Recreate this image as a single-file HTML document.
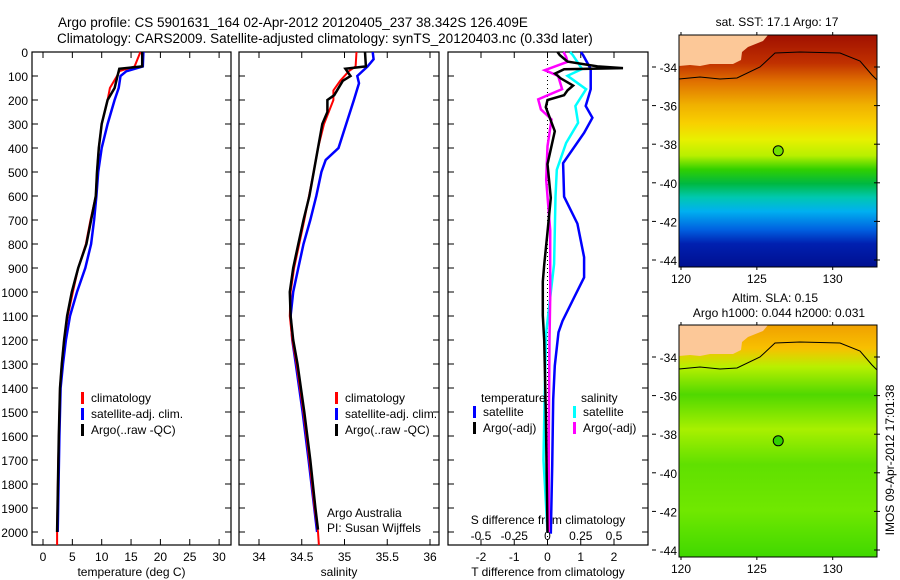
<!DOCTYPE html>
<html><head><meta charset="utf-8">
<style>
body{margin:0;background:#fff;}
svg{display:block;font-family:"Liberation Sans",sans-serif;}
text{font-size:12px;fill:#000;}
</style></head>
<body>
<svg id="c" width="900" height="580" viewBox="0 0 900 580" xmlns="http://www.w3.org/2000/svg">
<text x="58" y="27" style="font-size:13.5px">Argo profile: CS 5901631_164 02-Apr-2012 20120405_237 38.342S 126.409E</text>
<text x="57" y="43" style="font-size:13.5px">Climatology: CARS2009. Satellite-adjusted climatology: synTS_20120403.nc (0.33d later)</text>
<g id="p1"></g>
<g id="p2"></g>
<g id="p3"></g>
<g id="m1"></g>
<g id="m2"></g>
<text x="777" y="26" text-anchor="middle">sat. SST: 17.1 Argo: 17</text>
<text x="775" y="302" text-anchor="middle">Altim. SLA: 0.15</text>
<text x="779" y="317" text-anchor="middle">Argo h1000: 0.044 h2000: 0.031</text>
<text transform="translate(894,460) rotate(-90)" text-anchor="middle">IMOS 09-Apr-2012 17:01:38</text>
</svg>
<script>
// ---- data ----
const depthTicks=[0,100,200,300,400,500,600,700,800,900,1000,1100,1200,1300,1400,1500,1600,1700,1800,1900,2000];
const tempTicks=[0,5,10,15,20,25,30];
const salTicks=[34,34.5,35,35.5,36];
const salTickLabels=["34","34.5","35","35.5","36"];
const tdiffTicks=[-2,-1,0,1,2];
const sdiffTicks=[-0.5,-0.25,0,0.25,0.5];
const sdiffLabels=["-0.5","-0.25","0","0.25","0.5"];

const tClimDepth=[0,60,80,100,150,200,300,400,500,600,700,800,900,1000,1100,1200,1300,1400,1500,1700,2000,2054];
const tClim=[16.6,15.6,13,12.6,11.4,11,10,9.5,9.2,9,8.1,7.3,6.0,5.1,4.2,3.6,3.2,2.9,2.8,2.6,2.4,2.4];
const tSatDepth=[0,60,80,100,150,200,300,400,500,600,700,800,900,1000,1100,1200,1300,1400,1600,2000];
const tSat=[17.1,17.0,14.2,13.2,12.9,12.2,11,10,9.4,9.1,8.7,8.2,7.2,5.8,4.6,3.9,3.4,3.0,2.8,2.5];
const tArgoDepth=[0,60,70,100,150,200,300,400,500,600,700,800,900,1000,1100,1200,1300,1400,1600,2000];
const tArgo=[16.9,16.9,13,12.7,12.2,11,10,9.5,9.2,9,8.2,7.4,6.0,4.9,4.1,3.6,3.2,2.9,2.7,2.4];

const sClimDepth=[0,60,80,120,160,200,300,400,500,700,900,1000,1100,1200,1300,1400,1500,1700,1900,2000,2054];
const sClim=[35.14,35.13,35.05,34.95,34.87,34.87,34.76,34.69,34.64,34.53,34.41,34.37,34.36,34.39,34.44,34.48,34.52,34.59,34.65,34.69,34.7];
const sSatDepth=[0,30,60,100,130,200,300,400,450,500,600,700,800,900,1000,1100,1200,1300,1400,1500,1700,2000];
const sSat=[35.33,35.34,35.27,35.15,35.17,35.11,35.02,34.93,34.78,34.73,34.67,34.6,34.52,34.46,34.40,34.37,34.39,34.43,34.47,34.51,34.58,34.68];
const sArgoDepth=[0,60,70,100,120,180,200,250,300,400,500,600,700,800,900,1000,1100,1200,1300,1400,1500,1700,1900,1990];
const sArgo=[35.24,35.25,35.01,35.07,34.98,34.88,34.8,34.8,34.74,34.69,34.64,34.59,34.52,34.46,34.40,34.36,34.37,34.40,34.45,34.49,34.53,34.6,34.66,34.69];

const dTSatDepth=[0,13,71,155,225,274,337,463,603,715,855,939,1023,1121,1168,1307,1447,1727,2007];
const dTSat=[1.0,1.07,1.3,1.3,1.15,1.35,1.1,0.47,0.5,0.9,1.1,1.1,0.8,0.45,0.33,0.22,0.17,0.14,0.1];
const dTArgoDepth=[0,13,40,60,67,72,90,110,140,160,180,200,230,330,467,608,750,887,957,1097,1200,1500,2000];
const dTArgo=[0.3,0.37,0.6,1.5,2.27,0.5,0.23,0.4,0.77,0.6,0.5,0.0,-0.05,0.22,0.0,0.1,0.0,-0.1,-0.14,-0.14,-0.1,-0.05,0.0];
const dSSatDepth=[0,13,71,99,155,225,295,379,491,603,883,1121,1168,1400,1700,1900,2000];
const dSSat=[0.17,0.19,0.26,0.15,0.29,0.21,0.23,0.14,0.07,0.06,0.05,0.0,-0.01,-0.02,-0.03,-0.01,0.0];
const dSArgoDepth=[0,20,41,76,99,155,197,239,281,393,533,743,1023,1200,1600,2000];
const dSArgo=[0.12,0.14,0.15,-0.02,0.08,0.11,-0.07,-0.05,0.03,0.0,-0.01,0.02,0.02,0.015,0.01,0.01];

const latTicks=[-34,-36,-38,-40,-42,-44];
const lonTicks=[120,125,130];
const argoLon=126.409, argoLat=-38.342;

// ---- helpers ----
const NS="http://www.w3.org/2000/svg";
function mk(parent,tag,attrs,txt){const e=document.createElementNS(NS,tag);for(const k in attrs)e.setAttribute(k,attrs[k]);if(txt!==undefined)e.textContent=txt;parent.appendChild(e);return e;}
const TOP=52,BOT=545;
const yD=d=>TOP+d*0.24;

function panel(g,x0,x1,xs,ticks,labels,xlabel,withDepthLabels){
  const fr=mk(g,'rect',{x:x0,y:TOP,width:x1-x0,height:BOT-TOP,fill:'none',stroke:'#000','stroke-width':1.2});
  
  
  depthTicks.forEach(d=>{
    mk(g,'line',{x1:x0,x2:x0+6,y1:yD(d),y2:yD(d),stroke:'#000'});
    mk(g,'line',{x1:x1-6,x2:x1,y1:yD(d),y2:yD(d),stroke:'#000'});
    if(withDepthLabels){const t=mk(g,'text',{x:x0-4,y:yD(d)+5,'text-anchor':'end'},String(d));
      
      }
  });
  ticks.forEach((v,i)=>{
    const x=xs(v);
    mk(g,'line',{x1:x,x2:x,y1:TOP,y2:TOP+6,stroke:'#000'});
    mk(g,'line',{x1:x,x2:x,y1:BOT-6,y2:BOT,stroke:'#000'});
    if(labels){const t=mk(g,'text',{x:x,y:BOT+16,'text-anchor':'middle'},labels[i]);
      
      }
  });
  if(xlabel){const t=mk(g,'text',{x:(x0+x1)/2,y:576,'text-anchor':'middle'},xlabel);
    
    }
}
function series(g,depths,vals,xs,color,name,w){
  const pts=depths.map((d,i)=>xs(vals[i]).toFixed(1)+','+yD(d).toFixed(1)).join(' ');
  const p=mk(g,'polyline',{points:pts,fill:'none',stroke:color,'stroke-width':w||2.5,'stroke-linejoin':'miter'});
  
  
}
function legend(g,x,y,items){
  items.forEach((it,i)=>{
    mk(g,'rect',{x:x,y:y+i*16-10,width:3,height:12,fill:it[1]});
    const t=mk(g,'text',{x:x+10,y:y+i*16},it[0]);
    
    
  });
}

// panel 1
const p1=document.getElementById('p1');
const xT=v=>43+v*5.87;
panel(p1,32,231,xT,tempTicks,tempTicks.map(String),'temperature (deg C)',true);
series(p1,tSatDepth,tSat,xT,'#0000ff','temp-satellite-line');
series(p1,tClimDepth,tClim,xT,'#ff0000','temp-climatology-line',2);
series(p1,tArgoDepth,tArgo,xT,'#000','temp-argo-line');
legend(p1,81,402,[['climatology','#f00'],['satellite-adj. clim.','#00f'],['Argo(..raw -QC)','#000']]);

// panel 2
const p2=document.getElementById('p2');
const xS=v=>259+(v-34)*85.5;
panel(p2,239,439,xS,salTicks,salTickLabels,'salinity',false);
series(p2,sSatDepth,sSat,xS,'#0000ff','sal-satellite-line');
series(p2,sClimDepth,sClim,xS,'#ff0000','sal-climatology-line',2);
series(p2,sArgoDepth,sArgo,xS,'#000','sal-argo-line');
legend(p2,335,402,[['climatology','#f00'],['satellite-adj. clim.','#00f'],['Argo(..raw -QC)','#000']]);
mk(p2,'text',{x:327,y:517},'Argo Australia');
mk(p2,'text',{x:327,y:532},'PI: Susan Wijffels');

// panel 3
const p3=document.getElementById('p3');
const xDT=v=>547.5+v*33.25;
const xDS=v=>547.5+v*133;
panel(p3,448,648,xDT,tdiffTicks,tdiffTicks.map(String),'T difference from climatology',false);
mk(p3,'line',{x1:547.5,x2:547.5,y1:TOP,y2:BOT,stroke:'#000','stroke-dasharray':'1,3'});
sdiffTicks.forEach((v,i)=>{const t=mk(p3,'text',{x:xDS(v),y:540,'text-anchor':'middle'},sdiffLabels[i]);
  
  });
mk(p3,'text',{x:548,y:524,'text-anchor':'middle'},'S difference from climatology');
series(p3,dTSatDepth,dTSat,xDT,'#0000ff','tdiff-satellite-line');
series(p3,dSSatDepth,dSSat,xDS,'#00ffff','sdiff-satellite-line');
series(p3,dSArgoDepth,dSArgo,xDS,'#ff00ff','sdiff-argo-line');
series(p3,dTArgoDepth,dTArgo,xDT,'#000','tdiff-argo-line');
mk(p3,'text',{x:481,y:402},'temperature');
legend(p3,473,416,[['satellite','#00f'],['Argo(-adj)','#000']]);
mk(p3,'text',{x:581,y:402},'salinity');
legend(p3,573,416,[['satellite','#0ff'],['Argo(-adj)','#f0f']]);

// maps
function map(g,top,stops){
  const L=679,R=877,B=top+232;
  const lx=v=>681+(v-120)*15.17;
  const ly=v=>top+32+(-34-v)*19.3;
  const id='grad'+top;
  const defs=mk(g,'defs',{});
  const lg=mk(defs,'linearGradient',{id:id,x1:0,y1:0,x2:0,y2:1});
  stops.forEach(s=>mk(lg,'stop',{offset:s[0],'stop-color':s[1]}));
  const r=mk(g,'rect',{x:L,y:top,width:R-L,height:B-top,fill:'url(#'+id+')'});
  
  
  return {L,R,B,lx,ly};
}
function decorate(g,top,o,fillMarker){
  const {L,R,B,lx,ly}=o;
  const land=mk(g,'polygon',{points:`${L},${top} 768,${top} 763,${top+6} 748,${top+12} 742,${top+17} 741,${top+25} 733,${top+29} 710,${top+29} 700,${top+31} 690,${top+30} ${L},${top+31}`,fill:'#fcc898'});
  
  
  mk(g,'polyline',{points:`${L},${top+44} 700,${top+42} 720,${top+44} 737,${top+43} 760,${top+32} 775,${top+18} 800,${top+17} 840,${top+18} 860,${top+26} 872,${top+40} ${R},${top+45}`,fill:'none',stroke:'#000','stroke-width':1});
  mk(g,'rect',{x:L,y:top,width:R-L,height:B-top,fill:'none',stroke:'#000','stroke-width':1});
  latTicks.forEach(v=>{const y=ly(v);
    mk(g,'line',{x1:652,x2:656,y1:y,y2:y,stroke:'#000'});
    mk(g,'line',{x1:R-3,x2:R+3,y1:y,y2:y,stroke:'#000'});
    const t=mk(g,'text',{x:L-2,y:y+5,'text-anchor':'end'},String(v));
    
    });
  lonTicks.forEach(v=>{const x=lx(v);
    mk(g,'line',{x1:x,x2:x,y1:top-3,y2:top,stroke:'#000'});
    mk(g,'line',{x1:x,x2:x,y1:B,y2:B+3,stroke:'#000'});
    const t=mk(g,'text',{x:x,y:B+16,'text-anchor':'middle'},String(v));
    
    });
  const c=mk(g,'circle',{cx:lx(argoLon),cy:ly(argoLat),r:5,fill:fillMarker,stroke:'#000','stroke-width':1});
  
  
}
const m1=document.getElementById('m1');
const o1=map(m1,35,[[0,'#a01000'],[0.12,'#c03000'],[0.2,'#e07000'],[0.3,'#f0b000'],[0.38,'#f8d000'],[0.45,'#e8f000'],[0.52,'#b8f000'],[0.58,'#30d000'],[0.64,'#00b840'],[0.7,'#00c8b0'],[0.76,'#00b0f0'],[0.84,'#0060e0'],[0.9,'#0020b0'],[1,'#001090']]);
decorate(m1,35,o1,'#70e000');
const m2=document.getElementById('m2');
const o2=map(m2,325,[[0,'#f0a000'],[0.1,'#f8c000'],[0.18,'#b8f000'],[0.3,'#50d800'],[0.45,'#a8f000'],[0.6,'#60e000'],[0.8,'#70e800'],[1,'#40d800']]);
decorate(m2,325,o2,'#30d000');
</script>
</body></html>
